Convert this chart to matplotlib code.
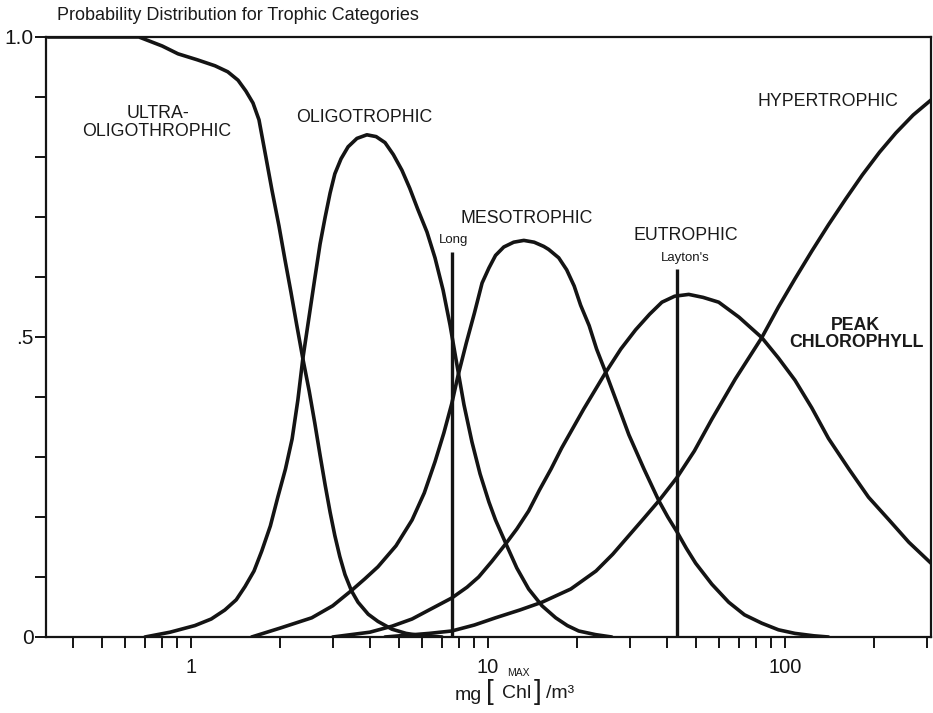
import numpy as np
import matplotlib
matplotlib.use("Agg")
import matplotlib.pyplot as plt
from matplotlib.ticker import FixedLocator, FixedFormatter, NullFormatter

plt.rcParams['font.family'] = ['Liberation Sans', 'DejaVu Sans']

# ---- data ----
ultra_x = [0.33, 0.668, 0.80, 0.904, 1.05, 1.205, 1.33, 1.44, 1.53, 1.617, 1.694, 1.787, 1.873, 1.978,
           2.07, 2.17, 2.27, 2.38, 2.50, 2.61, 2.72, 2.83, 2.94, 3.05, 3.17, 3.30, 3.47, 3.65,
           3.95, 4.26, 4.75, 5.3, 6.0, 7.0]
ultra_y = [1.0, 1.0, 0.985, 0.972, 0.962, 0.952, 0.942, 0.928, 0.91, 0.89, 0.862, 0.80, 0.745, 0.685,
           0.63, 0.575, 0.52, 0.464, 0.41, 0.357, 0.303, 0.253, 0.208, 0.169, 0.134, 0.104, 0.077, 0.058,
           0.038, 0.026, 0.013, 0.006, 0.002, 0.0]

oligo_x = [0.70, 0.85, 1.03, 1.17, 1.30, 1.42, 1.52, 1.63, 1.73, 1.85, 1.96, 2.08, 2.19, 2.29, 2.38,
           2.50, 2.61, 2.72, 2.83, 2.94, 3.05, 3.2, 3.38, 3.62, 3.91, 4.2, 4.5, 4.8, 5.13, 5.45, 5.8,
           6.23, 6.63, 7.06, 7.45, 7.87, 8.30, 8.83, 9.4, 10.07, 10.6, 11.5, 12.5, 13.7, 15.2, 16.9,
           18.5, 20.2, 23.0, 26.1]
oligo_y = [0.0, 0.008, 0.019, 0.03, 0.045, 0.062, 0.084, 0.11, 0.143, 0.185, 0.233, 0.28, 0.33, 0.395, 0.464,
           0.535, 0.597, 0.655, 0.70, 0.74, 0.772, 0.797, 0.817, 0.831, 0.837, 0.834, 0.824, 0.804, 0.778, 0.748, 0.713,
           0.675, 0.632, 0.578, 0.52, 0.452, 0.387, 0.325, 0.272, 0.225, 0.195, 0.155, 0.115, 0.08, 0.052, 0.032,
           0.019, 0.01, 0.004, 0.0]

meso_x = [1.6, 2.0, 2.55, 3.0, 3.48, 3.85, 4.26, 4.9, 5.55, 6.1, 6.63, 7.1, 7.55, 7.92, 8.45, 9.0, 9.55,
          10.07, 10.6, 11.3, 12.2, 13.2, 14.3, 15.4, 16.0, 17.3, 18.4, 19.5, 20.5, 21.9, 23.2, 24.9,
          27.2, 29.8, 33.5, 37.6, 40.3, 43.3, 46.5, 50.0, 56.7, 64.6, 73.0, 83.5, 95, 108, 125, 140]
meso_y = [0.0, 0.015, 0.032, 0.052, 0.078, 0.097, 0.117, 0.152, 0.195, 0.24, 0.292, 0.34, 0.389, 0.435, 0.49, 0.54, 0.59,
          0.615, 0.636, 0.65, 0.658, 0.661, 0.658, 0.651, 0.646, 0.632, 0.612, 0.585, 0.553, 0.519, 0.48, 0.441,
          0.39, 0.337, 0.28, 0.227, 0.2, 0.175, 0.148, 0.123, 0.088, 0.058, 0.037, 0.023, 0.012, 0.006, 0.002, 0.0]

eutro_x = [3.0, 4.0, 4.75, 5.55, 6.33, 7.55, 8.5, 9.3, 10.3, 11.5, 12.5, 13.7, 14.9, 16.3, 17.7, 21.0, 24.9,
           28.0, 31.4, 35.0, 38.5, 42.5, 47.4, 53.0, 59.8, 70.0, 83.5, 95, 108, 123, 140, 164, 191,
           224, 261, 310]
eutro_y = [0.0, 0.008, 0.018, 0.03, 0.045, 0.065, 0.083, 0.1, 0.126, 0.156, 0.18, 0.21, 0.245, 0.28, 0.315, 0.38, 0.441,
           0.48, 0.512, 0.538, 0.558, 0.568, 0.571, 0.566, 0.558, 0.533, 0.499, 0.465, 0.428, 0.382, 0.331, 0.28, 0.233,
           0.195, 0.158, 0.123]

hyper_x = [4.5, 6.33, 7.55, 9.0, 10.6, 12.8, 15.2, 19.0, 23.1, 26.3, 29.8, 33.5, 37.6, 43.3, 49.5, 56.7,
           68.0, 83.5, 95.0, 108, 123, 140, 160, 182, 208, 236, 270, 310]
hyper_y = [0.0, 0.006, 0.01, 0.02, 0.032, 0.045, 0.058, 0.08, 0.11, 0.138, 0.169, 0.198, 0.227, 0.266, 0.31, 0.363,
           0.43, 0.499, 0.55, 0.597, 0.643, 0.687, 0.73, 0.77, 0.808, 0.84, 0.87, 0.895]

marker_names = ["Long", "Layton's"]
marker_x = [7.57, 43.3]
marker_top = [0.642, 0.613]

y_ticks = [0.0, 0.5, 1.0]
y_ticklabels = ["0", ".5", "1.0"]
x_ticks = [1, 10, 100]
x_ticklabels = ["1", "10", "100"]

# ---- figure ----
W, H = 933, 713
fig = plt.figure(figsize=(W / 100, H / 100), dpi=100)
ax = fig.add_axes([46 / W, 1 - 637 / H, (931 - 46) / W, 600 / H])

col = '#141414'
lw = 2.6
for xs, ys in [(ultra_x, ultra_y), (oligo_x, oligo_y), (meso_x, meso_y),
               (eutro_x, eutro_y), (hyper_x, hyper_y)]:
    ax.plot(xs, ys, color=col, lw=lw, solid_joinstyle='round', solid_capstyle='round', clip_on=True)

for mx, mt in zip(marker_x, marker_top):
    ax.plot([mx, mx], [0, mt], color=col, lw=2.4, solid_capstyle='butt')

ax.set_xscale('log')
ax.set_xlim(0.325, 310)
ax.set_ylim(0, 1.0)

ax.xaxis.set_major_locator(FixedLocator(x_ticks))
ax.xaxis.set_major_formatter(FixedFormatter(x_ticklabels))
minor_x = [m * 10.0 ** e for e in (-1, 0, 1, 2) for m in range(2, 10)]
ax.xaxis.set_minor_locator(FixedLocator([v for v in minor_x if 0.33 < v < 310]))
ax.xaxis.set_minor_formatter(NullFormatter())

ax.yaxis.set_major_locator(FixedLocator(y_ticks))
ax.yaxis.set_major_formatter(FixedFormatter(y_ticklabels))
ax.yaxis.set_minor_locator(FixedLocator([0.1, 0.2, 0.3, 0.4, 0.6, 0.7, 0.8, 0.9]))

for s in ax.spines.values():
    s.set_linewidth(1.6)
    s.set_color(col)

ax.tick_params(axis='both', which='both', direction='out', length=8, width=1.4, color=col)
ax.tick_params(axis='x', which='major', labelsize=14.5, pad=7, labelcolor=col)
ax.tick_params(axis='y', which='major', labelsize=15, pad=1, labelcolor=col)

def px(x, y):
    return x / W, 1 - y / H

tc = '#1a1a1a'
fig.text(*px(57, 16), "Probability Distribution for Trophic Categories", fontsize=13,
         color=tc, ha='left', va='center')

lab = dict(fontsize=12.8, color=tc, ha='center', va='center')
fig.text(*px(158, 114), "ULTRA-", **lab)
fig.text(*px(157, 132), "OLIGOTHROPHIC", **lab)
fig.text(*px(364, 117), "OLIGOTROPHIC", **lab)
fig.text(*px(527, 218), "MESOTROPHIC", **lab)
fig.text(*px(686, 235), "EUTROPHIC", **lab)
fig.text(*px(828, 102), "HYPERTROPHIC", **lab)
fig.text(*px(855, 325), "PEAK", fontsize=12.8, fontweight='bold', color=tc, ha='center', va='center')
fig.text(*px(856, 343), "CHLOROPHYLL", fontsize=12.8, fontweight='bold', color=tc, ha='center', va='center')
fig.text(*px(454, 240), marker_names[0], fontsize=9.5, color=tc, ha='center', va='center')
fig.text(*px(685, 258), marker_names[1], fontsize=9.5, color=tc, ha='center', va='center')

# x-axis label: mg [Chl]/m^3 with MAX over Chl
fig.text(*px(468, 696), "mg", fontsize=14, color=tc, ha='center', va='center')
fig.text(*px(490, 692), "[", fontsize=20, color=tc, ha='center', va='center', fontweight='light')
fig.text(*px(518, 673), "MAX", fontsize=7.5, color=tc, ha='center', va='center')
fig.text(*px(517, 693), "Chl", fontsize=14, color=tc, ha='center', va='center')
fig.text(*px(538, 692), "]", fontsize=20, color=tc, ha='center', va='center', fontweight='light')
fig.text(*px(560, 694), "/m\u00b3", fontsize=14, color=tc, ha='center', va='center')

fig.savefig("out.png", dpi=100)
